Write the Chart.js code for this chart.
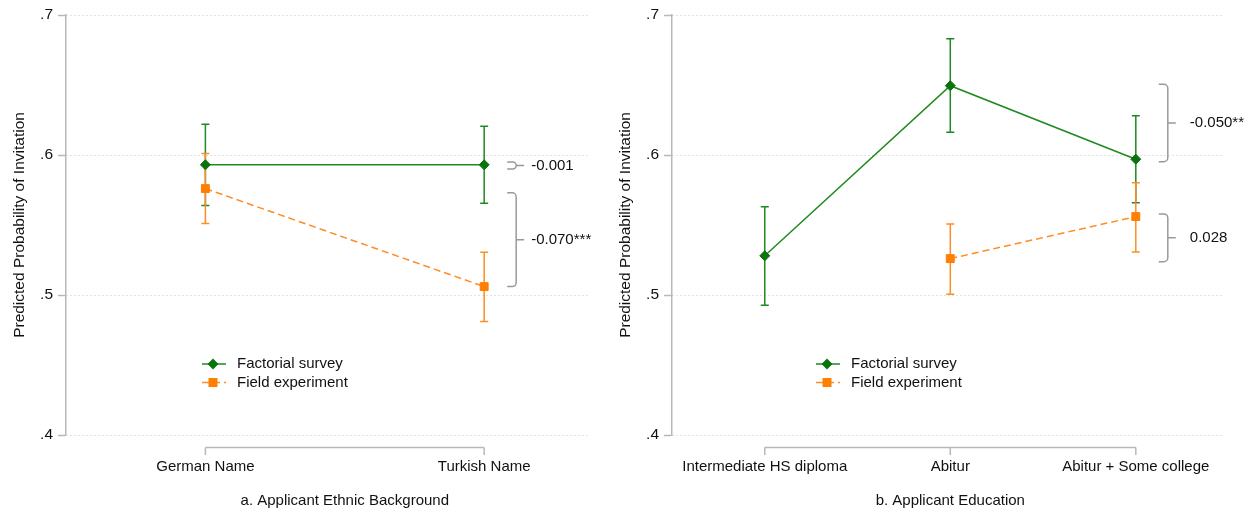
<!DOCTYPE html>
<html>
<head>
<meta charset="utf-8">
<script src="https://cdn.jsdelivr.net/npm/chart.js@4.4.1/dist/chart.umd.min.js"></script>
<style>
html,body{margin:0;padding:0;background:#fff;}
#wrap{position:relative;width:1253px;height:510px;}
canvas{position:absolute;top:0;}
#left{left:0;}
#right{left:606px;}
</style>
</head>
<body>
<div id="wrap">
  <canvas id="left" width="606" height="510"></canvas>
  <canvas id="right" width="647" height="510"></canvas>
</div>
<script>
// panel a: ethnic background
const ethnicCats = ["German Name", "Turkish Name"];
const ethnicSurvey = [0.593, 0.593];
const ethnicSurveyLo = [0.564, 0.5655];
const ethnicSurveyHi = [0.622, 0.6205];
const ethnicField = [0.576, 0.506];
const ethnicFieldLo = [0.551, 0.481];
const ethnicFieldHi = [0.601, 0.5305];
const ethnicBraceHi = [0.595, 0.573];
const ethnicBraceLo = [0.590, 0.506];
const ethnicBraceText = ["-0.001", "-0.070***"];

// panel b: education
const eduCats = ["Intermediate HS diploma", "Abitur", "Abitur + Some college"];
const eduSurvey = [0.528, 0.6495, 0.597];
const eduSurveyLo = [0.4926, 0.6162, 0.5659];
const eduSurveyHi = [0.5631, 0.6831, 0.6281];
const eduField = [null, 0.526, 0.556];
const eduFieldLo = [null, 0.5005, 0.5307];
const eduFieldHi = [null, 0.5507, 0.5802];
const eduBraceHi = [0.6505, 0.5579];
const eduBraceLo = [0.5952, 0.5238];
const eduBraceText = ["-0.050**", "0.028"];

const yTicks = [0.4, 0.5, 0.6, 0.7];
const seriesNames = ["Factorial survey", "Field experiment"];

const FONT = '"Liberation Sans", Arial, Helvetica, sans-serif';
const GREEN = '#1f8a1f', GREEN_MK = '#0b730b';
const ORANGE = '#ff8c26', ORANGE_MK = '#ff7f00';
const AXIS = '#b8b8b8', BRACE = '#999999', TEXT = '#111';

// error bars, x axis line, braces, legend, x title
const extras = {
  id: 'extras',
  beforeDatasetsDraw(chart) {
    const ctx = chart.ctx, xs = chart.scales.x, ys = chart.scales.y;
    ctx.save();
    ctx.lineWidth = 1.5;
    chart.data.datasets.forEach(ds => {
      ctx.strokeStyle = ds.borderColor;
      ds.lo.forEach((lo, i) => {
        if (lo == null) return;
        const x = xs.getPixelForValue(i);
        const y1 = ys.getPixelForValue(lo), y2 = ys.getPixelForValue(ds.hi[i]);
        ctx.beginPath();
        ctx.moveTo(x, y1); ctx.lineTo(x, y2);
        ctx.moveTo(x - 4, y1); ctx.lineTo(x + 4, y1);
        ctx.moveTo(x - 4, y2); ctx.lineTo(x + 4, y2);
        ctx.stroke();
      });
    });
    ctx.restore();
  },
  afterDraw(chart, args, o) {
    const ctx = chart.ctx, xs = chart.scales.x, ys = chart.scales.y, area = chart.chartArea;
    const n = o.cats.length;
    const x0 = xs.getPixelForValue(0), x1 = xs.getPixelForValue(n - 1);
    ctx.save();

    // x axis line only between categories
    const ay = area.bottom + 12.5;
    ctx.strokeStyle = AXIS; ctx.lineWidth = 1.5;
    ctx.beginPath();
    ctx.moveTo(x0, ay); ctx.lineTo(x1, ay);
    for (let i = 0; i < n; i++) {
      const x = xs.getPixelForValue(i);
      ctx.moveTo(x, ay); ctx.lineTo(x, ay + 7.5);
    }
    ctx.stroke();

    // x title
    ctx.fillStyle = TEXT;
    ctx.font = '15px ' + FONT;
    ctx.textAlign = 'center'; ctx.textBaseline = 'middle';
    ctx.fillText(o.title, (x0 + x1) / 2, 501);

    // braces
    const bx = x1 + 32;
    ctx.strokeStyle = BRACE; ctx.lineWidth = 1.5;
    o.braceHi.forEach((hi, i) => {
      const yt = ys.getPixelForValue(hi), yb = ys.getPixelForValue(o.braceLo[i]);
      const ym = (yt + yb) / 2;
      const r = Math.min(4, (yb - yt) / 2);
      ctx.beginPath();
      ctx.moveTo(bx - 9, yt);
      ctx.arcTo(bx, yt, bx, yb, r);
      ctx.arcTo(bx, yb, bx - 9, yb, r);
      ctx.lineTo(bx - 9, yb);
      ctx.moveTo(bx, ym); ctx.lineTo(bx + 8, ym);
      ctx.stroke();
      ctx.textAlign = 'left';
      ctx.fillText(o.braceText[i], bx + 8 + o.labelGap, ym);
    });

    // legend
    const lx = area.left + o.legendX;
    chart.data.datasets.forEach((ds, i) => {
      const y = 364 + i * 18.5;
      ctx.strokeStyle = ds.borderColor; ctx.lineWidth = 1.5;
      ctx.setLineDash(ds.borderDash || []);
      ctx.beginPath();
      ctx.moveTo(lx - 35, y); ctx.lineTo(lx - 11, y);
      ctx.stroke();
      ctx.setLineDash([]);
      ctx.fillStyle = ds.pointBackgroundColor;
      const mx = lx - 24;
      ctx.beginPath();
      if (ds.pointStyle === 'rectRot') {
        ctx.moveTo(mx, y - 5.5); ctx.lineTo(mx + 5.5, y); ctx.lineTo(mx, y + 5.5); ctx.lineTo(mx - 5.5, y);
        ctx.closePath();
      } else {
        ctx.rect(mx - 4.5, y - 4.5, 9, 9);
      }
      ctx.fill();
      ctx.fillStyle = TEXT;
      ctx.textAlign = 'left';
      ctx.fillText(seriesNames[i], lx, y);
    });
    ctx.restore();
  }
};

function makePanel(id, cats, sv, svLo, svHi, fd, fdLo, fdHi, brHi, brLo, brText, title, xMax, padRight, legendX, labelGap) {
  const pts = vals => cats.map((c, i) => ({ x: i, y: vals[i] }));
  return new Chart(document.getElementById(id), {
    type: 'line',
    data: {
      datasets: [
        {
          label: seriesNames[0], data: pts(sv), lo: svLo, hi: svHi,
          borderColor: GREEN, borderWidth: 1.5,
          pointStyle: 'rectRot', pointRadius: 5, pointBackgroundColor: GREEN_MK,
          pointBorderColor: GREEN_MK, pointBorderWidth: 1
        },
        {
          label: seriesNames[1], data: pts(fd), lo: fdLo, hi: fdHi,
          borderColor: ORANGE, borderWidth: 1.5, borderDash: [7, 4],
          pointStyle: 'rect', pointRadius: 5.6, pointBackgroundColor: ORANGE_MK,
          pointBorderColor: ORANGE_MK, pointBorderWidth: 1
        }
      ]
    },
    options: {
      responsive: false,
      animation: false,
      events: [],
      layout: { padding: { top: 15, right: padRight, bottom: 35, left: 0 } },
      plugins: {
        legend: { display: false },
        tooltip: { enabled: false },
        extras: { cats, title, braceHi: brHi, braceLo: brLo, braceText: brText, legendX, labelGap }
      },
      scales: {
        x: {
          type: 'linear', min: -0.5, max: xMax,
          grid: { display: false, drawTicks: false },
          border: { display: false },
          afterBuildTicks: s => { s.ticks = cats.map((c, i) => ({ value: i })); },
          afterFit: s => { s.height = 40; },
          ticks: {
            autoSkip: false, maxRotation: 0, minRotation: 0, padding: 23,
            color: TEXT, font: { family: FONT, size: 15 },
            callback: v => cats[v]
          }
        },
        y: {
          min: 0.4, max: 0.7,
          afterBuildTicks: s => { s.ticks = yTicks.map(v => ({ value: v })); },
          afterFit: s => { s.width = 66; },
          grid: {
            color: '#c4c4c4', lineWidth: 1,
            tickLength: 8, tickColor: AXIS, tickWidth: 1.5, tickBorderDash: []
          },
          border: { display: true, color: AXIS, width: 1.5, dash: [1, 3] },
          ticks: {
            padding: 5, color: TEXT, font: { family: FONT, size: 15.5 },
            callback: v => Number(v).toFixed(1).replace(/^0/, '')
          },
          title: {
            display: true, text: 'Predicted Probability of Invitation',
            color: TEXT, font: { family: FONT, size: 15.5 }, padding: { top: 10, bottom: 0 }
          }
        }
      }
    },
    plugins: [extras]
  });
}

makePanel('left', ethnicCats, ethnicSurvey, ethnicSurveyLo, ethnicSurveyHi,
  ethnicField, ethnicFieldLo, ethnicFieldHi, ethnicBraceHi, ethnicBraceLo, ethnicBraceText,
  'a. Applicant Ethnic Background', 1.376, 17, 171, 7);

makePanel('right', eduCats, eduSurvey, eduSurveyLo, eduSurveyHi,
  eduField, eduFieldLo, eduFieldHi, eduBraceHi, eduBraceLo, eduBraceText,
  'b. Applicant Education', 2.47, 30, 179, 14);
</script>
</body>
</html>
